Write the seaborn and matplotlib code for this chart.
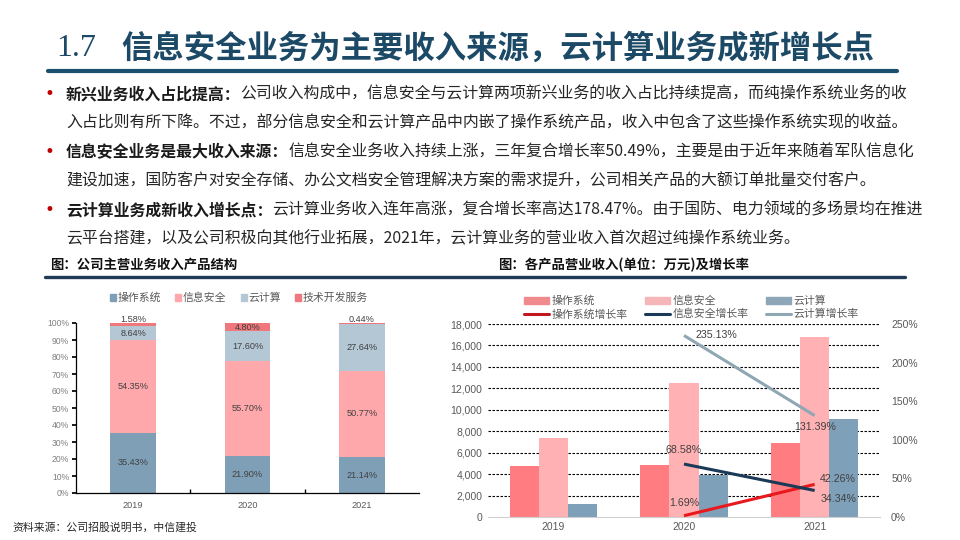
import numpy as np
import pandas as pd
import matplotlib
matplotlib.use("Agg")
import matplotlib.pyplot as plt
import seaborn as sns
from matplotlib.patches import Patch
from matplotlib.lines import Line2D

# 数据
years = ["2019", "2020", "2021"]

share_names = ["操作系统", "信息安全", "云计算", "技术开发服务"]
share_os = [35.43, 21.90, 21.14]
share_sec = [54.35, 55.70, 50.77]
share_cloud = [8.64, 17.60, 27.64]
share_tech = [1.58, 4.80, 0.44]

rev_names = ["操作系统", "信息安全", "云计算"]
rev_os = [4800, 4881, 6944]
rev_sec = [7400, 12475, 16760]
rev_cloud = [1180, 3955, 9150]

growth_names = ["操作系统增长率", "信息安全增长率", "云计算增长率"]
growth_years = ["2020", "2021"]
growth_os = [1.69, 42.26]
growth_sec = [68.58, 34.34]
growth_cloud = [235.13, 131.39]

title_num = "1.7"
title_text = "信息安全业务为主要收入来源，云计算业务成新增长点"
bullets = [
    ("新兴业务收入占比提高：",
     "公司收入构成中，信息安全与云计算两项新兴业务的收入占比持续提高，而纯操作系统业务的收",
     "入占比则有所下降。不过，部分信息安全和云计算产品中内嵌了操作系统产品，收入中包含了这些操作系统实现的收益。"),
    ("信息安全业务是最大收入来源：",
     "信息安全业务收入持续上涨，三年复合增长率50.49%，主要是由于近年来随着军队信息化",
     "建设加速，国防客户对安全存储、办公文档安全管理解决方案的需求提升，公司相关产品的大额订单批量交付客户。"),
    ("云计算业务成新收入增长点：",
     "云计算业务收入连年高涨，复合增长率高达178.47%。由于国防、电力领域的多场景均在推进",
     "云平台搭建，以及公司积极向其他行业拓展，2021年，云计算业务的营业收入首次超过纯操作系统业务。"),
]
left_title = "图：公司主营业务收入产品结构"
right_title = "图：各产品营业收入(单位：万元)及增长率"
source = "资料来源：公司招股说明书，中信建投"

sns.set_theme(style="white")
plt.rcParams['font.family'] = ['Noto Sans CJK SC', 'DejaVu Sans']

W, H = 960, 540
fig = plt.figure(figsize=(9.6, 5.4), dpi=100)
renderer = fig.canvas.get_renderer()


def fx(x):
    return x / W


def fy(y):
    return 1 - y / H


# 标题
fig.text(fx(56), fy(49), title_num, fontsize=23, color='#1C4966',
         family=['Liberation Serif'], va='center', ha='left')
fig.text(fx(121), fy(49), title_text, fontsize=22.6, color='#1C4966',
         fontweight='bold', va='center', ha='left')
fig.add_artist(Line2D([fx(48), fx(897)], [fy(71), fy(71)], color='#1B4F6E', lw=3))

# 要点文字
line_y = [94, 123, 152, 181, 210, 239]
body_size = 11.45
for i, (head, first, second) in enumerate(bullets):
    y1, y2 = line_y[2 * i], line_y[2 * i + 1]
    fig.text(fx(49), fy(y1), "•", color='#C00000', fontsize=12, va='center', ha='center',
             family=['DejaVu Sans'])
    t = fig.text(fx(66), fy(y1), head, fontsize=body_size, fontweight='bold', color='#1A1A1A',
                 va='center', ha='left')
    w = t.get_window_extent(renderer).width
    fig.text(fx(66 + w), fy(y1), first, fontsize=body_size, color='#262626', va='center', ha='left')
    fig.text(fx(66), fy(y2), second, fontsize=body_size, color='#262626', va='center', ha='left')

# 小标题
fig.text(fx(50), fy(265), left_title, fontsize=9.6, fontweight='bold', color='#111111',
         va='center', ha='left')
fig.text(fx(498), fy(265), right_title, fontsize=9.6, fontweight='bold', color='#111111',
         va='center', ha='left')
fig.add_artist(Line2D([fx(45), fx(905)], [fy(277), fy(277)], color='#1F3B57', lw=2.4))

# 左图：收入结构
axL = fig.add_axes([fx(76), fy(493), (419 - 76) / W, (493 - 323) / H])
share_cols = [share_os, share_sec, share_cloud, share_tech]
share_colors = ['#7F9FB7', '#FFA8AB', '#B4C7D5', '#F0787C']
tops = np.cumsum(np.array(share_cols), axis=0) / 100
for top, col in reversed(list(zip(tops, share_colors))):
    sns.barplot(x=years, y=top, color=col, width=0.4, saturation=1, errorbar=None, ax=axL,
                linewidth=0, edgecolor='none')
bottoms = tops - np.array(share_cols) / 100
for vals, top, bot in zip(share_cols, tops, bottoms):
    for j, v in enumerate(vals):
        if v < 2:
            # 很小的占比写在柱顶上方
            axL.text(j, top[j] - 0.006, f"{v:.2f}%", ha='center', va='bottom',
                     fontsize=6.6, color='#404040', family=['Liberation Sans'])
        else:
            axL.text(j, (top[j] + bot[j]) / 2, f"{v:.2f}%", ha='center', va='center',
                     fontsize=6.6, color='#404040', family=['Liberation Sans'])
axL.set_xlim(-0.5, 2.5)
axL.set_ylim(0, 1)
axL.set_yticks(np.arange(0, 1.01, 0.1))
axL.set_yticklabels([f"{int(round(v * 100))}%" for v in np.arange(0, 1.01, 0.1)])
axL.set_xticks([0, 1, 2])
axL.set_xticklabels(years)
axL.set_xticks([0.5, 1.5], minor=True)
axL.tick_params(axis='x', which='major', length=0, labelsize=6.6, labelcolor='#595959', pad=6)
axL.tick_params(axis='x', which='minor', length=3, direction='in', color='black', bottom=True)
axL.tick_params(axis='y', length=3, direction='out', color='black', left=True,
                labelsize=6.2, labelcolor='#7F7F7F', pad=2)
for lab in axL.get_xticklabels() + axL.get_yticklabels():
    lab.set_family(['Liberation Sans'])
axL.set_xlabel("")
axL.set_ylabel("")
for s in ['top', 'right']:
    axL.spines[s].set_visible(False)
for s in ['left', 'bottom']:
    axL.spines[s].set_color('black')
    axL.spines[s].set_linewidth(0.9)

left_handles = [Patch(color=c) for c in share_colors]
fig.legend(left_handles, share_names, loc='center', bbox_to_anchor=(fx(239), fy(298)),
           ncol=4, frameon=False, fontsize=7.8, handlelength=0.55, handleheight=0.55,
           handletextpad=0.15, columnspacing=1.3, labelcolor='#595959')

# 右图：营业收入及增长率
axR = fig.add_axes([fx(488), fy(517), (880 - 488) / W, (517 - 324) / H])
rev_long = pd.DataFrame({
    "year": years * 3,
    "product": np.repeat(rev_names, 3),
    "value": rev_os + rev_sec + rev_cloud,
})
rev_colors = ['#FF7C80', '#FFB1B4', '#7EA0B9']
sns.barplot(data=rev_long, x="year", y="value", hue="product", hue_order=rev_names,
            palette=rev_colors, width=0.667, saturation=1, errorbar=None, legend=False,
            ax=axR, zorder=2, linewidth=0, edgecolor='none')
axR.set_xlim(-0.5, 2.5)
yt = np.arange(0, 18001, 2000)
axR.set_ylim(0, 18000)
axR.set_yticks(yt)
axR.set_yticklabels([f"{v:,}" for v in yt])
for v in yt[1:]:
    axR.axhline(v, color='black', lw=0.8, ls=(0, (2.2, 1.4)), zorder=0.5)
axR.set_xlabel("")
axR.set_ylabel("")
axR.tick_params(length=0, labelsize=7.5, labelcolor='#595959')
axR.tick_params(axis='y', pad=4)
for s in ['top', 'right', 'left']:
    axR.spines[s].set_visible(False)
axR.spines['bottom'].set_color('#D0D0D0')
axR.spines['bottom'].set_linewidth(0.8)

axR2 = axR.twinx()
gx = [years.index(y) for y in growth_years]
growth_cols = [growth_os, growth_sec, growth_cloud]
growth_colors = ['#E8191C', '#1B3A57', '#8FA6B3']
for vals, col in zip(growth_cols, growth_colors):
    axR2.plot(gx, np.array(vals) / 100, color=col, lw=2.2, solid_capstyle='butt')
axR2.set_ylim(0, 2.5)
gt = np.arange(0, 2.51, 0.5)
axR2.set_yticks(gt)
axR2.set_yticklabels([f"{int(round(v * 100))}%" for v in gt])
axR2.tick_params(length=0, labelsize=7.5, labelcolor='#595959', pad=8)
for s in axR2.spines.values():
    s.set_visible(False)
axR2.grid(False)
for lab in axR.get_xticklabels() + axR.get_yticklabels() + axR2.get_yticklabels():
    lab.set_family(['Liberation Sans'])

label_offsets = {
    (0, 0): (0, 9, 'center'), (0, 1): (4, 4, 'left'),
    (1, 0): (0, 10, 'center'), (1, 1): (4, -6, 'left'),
    (2, 0): (8, 0, 'left'), (2, 1): (0, -8, 'center'),
}
for i, vals in enumerate(growth_cols):
    for j, v in enumerate(vals):
        dx, dy, ha = label_offsets[(i, j)]
        axR2.annotate(f"{v:.2f}%", (gx[j], v / 100), xytext=(dx, dy), textcoords='offset points',
                      ha=ha, va='center', fontsize=7.7, color='#404040', family=['Liberation Sans'])

right_handles = [Patch(color=c) for c in ['#F08A8C', '#F6B6B9', '#8DA7B8']]
line_handles = [Line2D([0], [0], color=c, lw=2.2) for c in ['#C0181E', '#1B3A57', '#8FA6B3']]
handles = [right_handles[0], line_handles[0], right_handles[1], line_handles[1],
           right_handles[2], line_handles[2]]
labels = [rev_names[0], growth_names[0], rev_names[1], growth_names[1],
          rev_names[2], growth_names[2]]
fig.legend(handles, labels, loc='upper left', bbox_to_anchor=(fx(514), fy(286)), ncol=3,
           frameon=False, fontsize=7.8, handlelength=2.3, handleheight=0.6,
           handletextpad=0.25, columnspacing=1.6, labelspacing=0.25, labelcolor='#595959')

# 资料来源
fig.text(fx(12), fy(527), source, fontsize=7.8, color='#262626', va='center', ha='left')

fig.savefig("out.png", dpi=100, facecolor='white')
